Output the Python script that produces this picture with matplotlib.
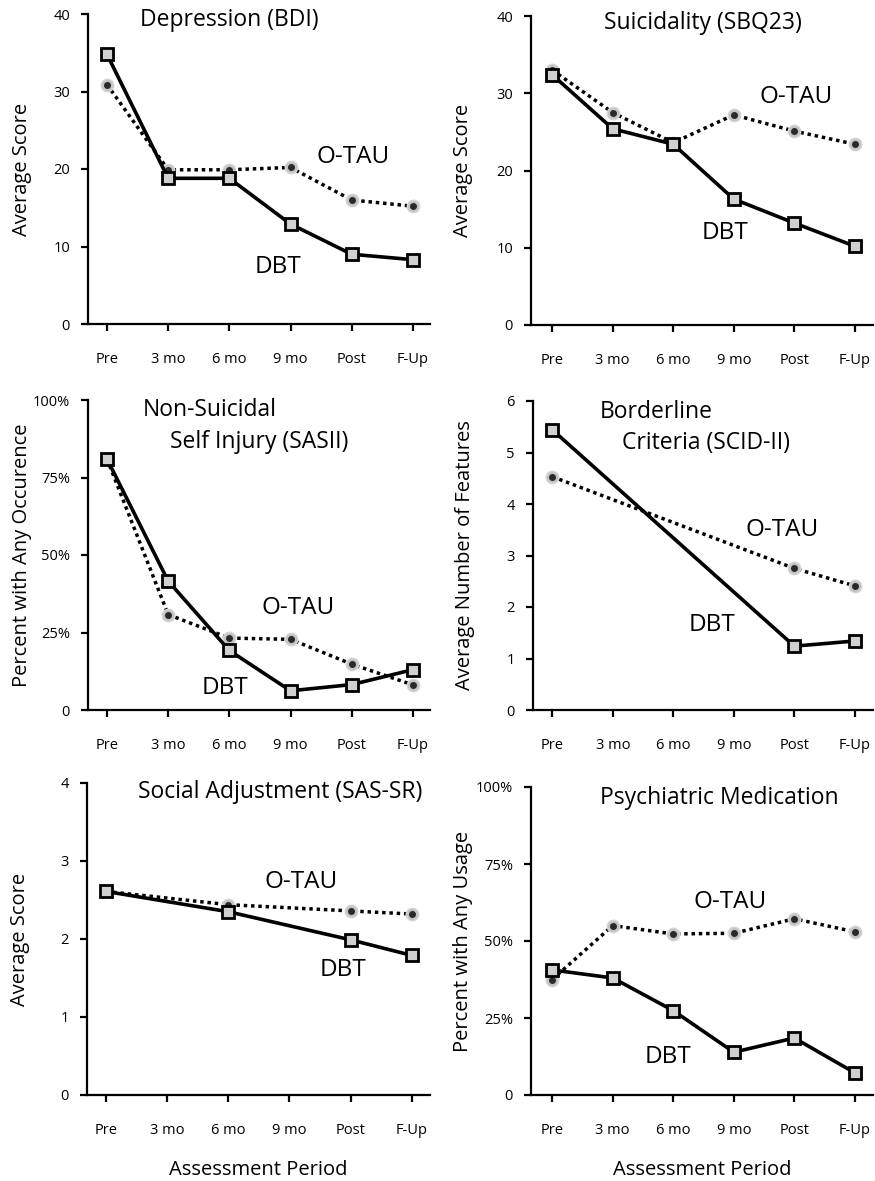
import numpy as np
import matplotlib
matplotlib.use('Agg')
import matplotlib.pyplot as plt

plt.rcParams['font.family'] = ['Open Sans', 'DejaVu Sans']

periods = ['Pre', '3 mo', '6 mo', '9 mo', 'Post', 'F-Up']
nan = np.nan

# panel data (DBT solid, O-TAU dotted); nan = not assessed
bdi_dbt = [34.8, 18.8, 18.8, 12.9, 9.0, 8.3]
bdi_tau = [30.9, 19.9, 19.9, 20.2, 16.0, 15.2]

sbq_dbt = [32.4, 25.4, 23.4, 16.3, 13.2, 10.2]
sbq_tau = [33.0, 27.5, 23.6, 27.2, 25.1, 23.4]

nssi_dbt = [81.0, 41.6, 19.2, 6.2, 8.2, 13.0]
nssi_tau = [81.0, 30.8, 23.2, 22.8, 14.8, 8.1]

bpd_dbt = [5.44, nan, nan, nan, 1.24, 1.34]
bpd_tau = [4.53, nan, nan, nan, 2.75, 2.41]

sas_dbt = [2.61, nan, 2.35, nan, 1.99, 1.79]
sas_tau = [2.61, nan, 2.44, nan, 2.36, 2.32]

med_dbt = [40.6, 38.0, 27.4, 13.9, 18.5, 7.2]
med_tau = [37.5, 55.0, 52.3, 52.5, 57.2, 53.0]

W, H = 875, 1181
fig = plt.figure(figsize=(W / 100, H / 100), dpi=100)

TITLE_FS = 16.5
NOTE_FS = 17.5
LABEL_FS = 14.5


def add_ax(l, t, r, b):
    return fig.add_axes([l / W, 1 - b / H, (r - l) / W, (b - t) / H])


def ftext(x, y, s, ha='left'):
    fig.text(x / W, 1 - y / H, s, fontsize=TITLE_FS, ha=ha, va='center')


def draw(ax, dbt, tau, ymax, yticks, yticklabels, ylabel, xlim, label_px):
    x = np.arange(len(periods))
    dbt = np.array(dbt, dtype=float)
    tau = np.array(tau, dtype=float)
    mt = ~np.isnan(tau)
    md = ~np.isnan(dbt)
    ax.plot(x[mt], tau[mt], color='black', lw=2.5, ls=(0, (1, 1.1)),
            marker='o', ms=9, mfc='#c4c4c4', mec='#d6d6d6', mew=1, zorder=2)
    ax.plot(x[mt], tau[mt], ls='none', marker='o', ms=4, mfc='#2a2a2a',
            mec='#2a2a2a', zorder=3)
    ax.plot(x[md], dbt[md], color='black', lw=2.6, ls='-',
            marker='s', ms=8, mfc='#d0d0d0', mec='black', mew=2, zorder=4)
    ax.set_xlim(*xlim)
    ax.set_ylim(0, ymax)
    ax.set_xticks(x)
    ax.set_xticklabels(periods, fontsize=10.5)
    ax.set_yticks(yticks)
    ax.set_yticklabels(yticklabels, fontsize=10.5)
    ax.spines['top'].set_visible(False)
    ax.spines['right'].set_visible(False)
    for s in ('left', 'bottom'):
        ax.spines[s].set_linewidth(1.6)
    ax.tick_params(axis='x', direction='out', length=5, width=1.6, pad=15)
    ax.tick_params(axis='y', direction='out', length=5, width=1.6, pad=8)
    ax.set_ylabel(ylabel, fontsize=LABEL_FS)
    ax.yaxis.set_label_coords(label_px, 0.5)


def note(ax, x, y, s):
    ax.text(x, y, s, fontsize=NOTE_FS, ha='center', va='center')


xl_left = (-0.31, 5.28)
xl_right = (-0.35, 5.3)
pct_ticks = [0, 25, 50, 75, 100]
pct_labels = ['0', '25%', '50%', '75%', '100%']

# top row
ax1 = add_ax(88, 14, 430, 324)
draw(ax1, bdi_dbt, bdi_tau, 40, [0, 10, 20, 30, 40], ['0', '10', '20', '30', '40'],
     'Average Score', xl_left, -0.165)
note(ax1, 4.02, 21.5, 'O-TAU')
note(ax1, 2.8, 7.4, 'DBT')
ftext(229, 20, 'Depression (BDI)', ha='center')

ax2 = add_ax(531, 16, 873, 325)
draw(ax2, sbq_dbt, sbq_tau, 40, [0, 10, 20, 30, 40], ['0', '10', '20', '30', '40'],
     'Average Score', xl_right, -0.17)
note(ax2, 4.03, 29.5, 'O-TAU')
note(ax2, 2.85, 11.9, 'DBT')
ftext(703, 23, 'Suicidality (SBQ23)', ha='center')

# middle row
ax3 = add_ax(88, 400, 430, 710)
draw(ax3, nssi_dbt, nssi_tau, 100, pct_ticks, pct_labels,
     'Percent with Any Occurence', xl_left, -0.165)
note(ax3, 3.12, 33, 'O-TAU')
note(ax3, 1.93, 7, 'DBT')
ftext(143, 410, 'Non-Suicidal')
ftext(170, 442, 'Self Injury (SASII)')

ax4 = add_ax(533, 401, 873, 710)
draw(ax4, bpd_dbt, bpd_tau, 6, [0, 1, 2, 3, 4, 5, 6], [str(v) for v in range(7)],
     'Average Number of Features', (-0.32, 5.3), -0.17)
note(ax4, 3.8, 3.5, 'O-TAU')
note(ax4, 2.64, 1.65, 'DBT')
ftext(600, 412, 'Borderline')
ftext(622, 443, 'Criteria (SCID-II)')

# bottom row
ax5 = add_ax(87, 783, 430, 1095)
draw(ax5, sas_dbt, sas_tau, 4, [0, 1, 2, 3, 4], ['0', '1', '2', '3', '4'],
     'Average Score', (-0.31, 5.3), -0.165)
note(ax5, 3.19, 2.73, 'O-TAU')
note(ax5, 3.88, 1.6, 'DBT')
ftext(280, 792, 'Social Adjustment (SAS-SR)', ha='center')
ax5.set_xlabel('Assessment Period', fontsize=LABEL_FS, labelpad=16)

ax6 = add_ax(531, 787, 873, 1095)
draw(ax6, med_dbt, med_tau, 100, pct_ticks, pct_labels,
     'Percent with Any Usage', xl_right, -0.17)
note(ax6, 2.94, 62.7, 'O-TAU')
note(ax6, 1.92, 12.3, 'DBT')
ftext(719, 798, 'Psychiatric Medication', ha='center')
ax6.set_xlabel('Assessment Period', fontsize=LABEL_FS, labelpad=16)

fig.savefig('out.png', dpi=100)
